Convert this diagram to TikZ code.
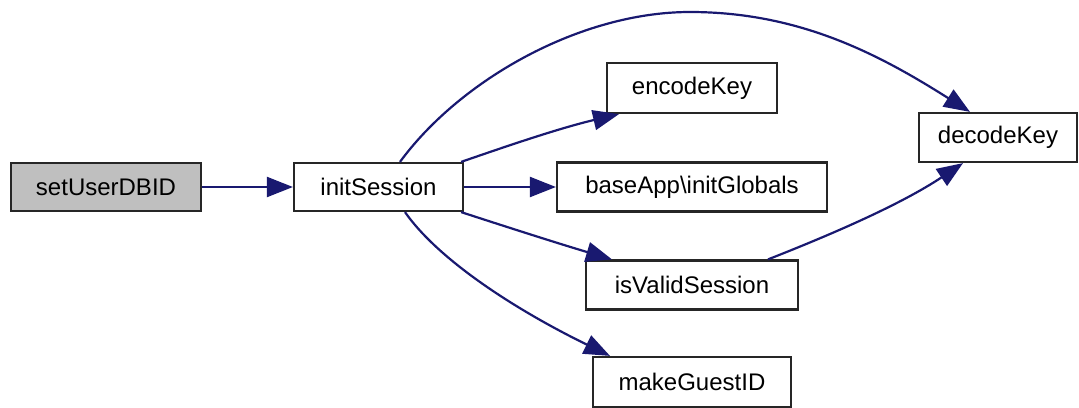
\documentclass[tikz,border=0pt]{standalone}
\usepackage{fontspec}
\setmainfont{Liberation Sans}
\usetikzlibrary{arrows.meta}
\definecolor{edgeblue}{HTML}{191970}
\definecolor{boxgray}{HTML}{BFBFBF}
\begin{document}
\begin{tikzpicture}[x=1pt,y=-1pt,
  fn/.style={draw=black!85,line width=2.2pt,fill=white,inner sep=0pt,
    font=\fontsize{24}{28}\selectfont,anchor=center},
  call/.style={draw=edgeblue,line width=2.2pt,
    -{Triangle[length=26pt,width=20pt]}}]
\useasboundingbox (0,0) rectangle (1079,407);
\node[fn,fill=boxgray,minimum width=190pt,minimum height=48pt] (setUserDBID) at (106,187) {setUserDBID};
\node[fn,minimum width=169pt,minimum height=48pt] (initSession) at (378.5,187) {initSession};
\node[fn,minimum width=170pt,minimum height=50pt] (encodeKey) at (692,88) {encodeKey};
\node[fn,minimum width=270pt,minimum height=49pt] (initGlobals) at (692,187) {baseApp\textbackslash initGlobals};
\node[fn,minimum width=158pt,minimum height=49pt] (decodeKey) at (998,137.5) {decodeKey};
\node[fn,minimum width=212pt,minimum height=49pt] (isValidSession) at (692,285) {isValidSession};
\node[fn,minimum width=198pt,minimum height=50pt] (makeGuestID) at (692,382) {makeGuestID};

\draw[call] (setUserDBID.east) -- (initSession.west);
\draw[call] (initSession.east) -- (initGlobals.west);
\draw[call] ([xshift=-3pt]initSession.north east) .. controls (510,145) and (560,128) .. ([xshift=-73pt]encodeKey.south);
\draw[call] ([xshift=-3pt]initSession.south east) .. controls (510,228) and (560,244) .. ([xshift=-80pt]isValidSession.north);
\draw[call] ([xshift=26.5pt]initSession.south) .. controls (440,262) and (520,312) .. ([xshift=-82pt]makeGuestID.north);
\draw[call] ([xshift=21.5pt]initSession.north) .. controls (460,80) and (580,12) .. (690,12)
  .. controls (800,12) and (880,55) .. ([xshift=-28pt]decodeKey.north);
\draw[call] ([xshift=76pt]isValidSession.north) .. controls (830,235) and (900,205) .. ([xshift=-35pt]decodeKey.south);
\end{tikzpicture}
\end{document}
